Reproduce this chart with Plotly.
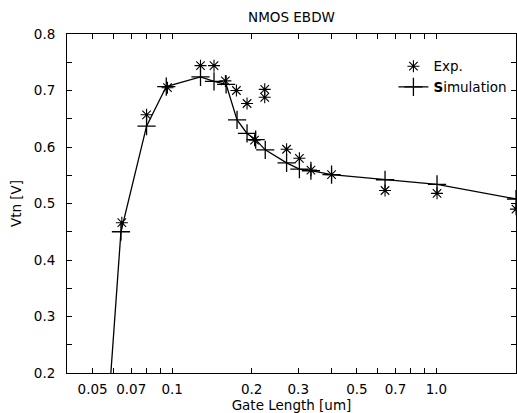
import plotly.graph_objects as go
import math

# Simulation (line + "+" markers)
sim_x = [0.058, 0.064, 0.080, 0.095, 0.128, 0.144, 0.160, 0.176, 0.192, 0.207, 0.225, 0.271, 0.303, 0.335, 0.401, 0.639, 1.005, 2.0]
sim_y = [0.17, 0.45, 0.637, 0.707, 0.724, 0.716, 0.711, 0.648, 0.624, 0.613, 0.595, 0.572, 0.561, 0.558, 0.551, 0.542, 0.534, 0.508]

# Experimental ("*" markers)
exp_x = [0.0645, 0.080, 0.096, 0.128, 0.144, 0.159, 0.175, 0.192, 0.205, 0.224, 0.224, 0.271, 0.303, 0.335, 0.401, 0.639, 1.005, 2.0]
exp_y = [0.466, 0.657, 0.705, 0.744, 0.744, 0.717, 0.700, 0.677, 0.612, 0.702, 0.688, 0.596, 0.580, 0.559, 0.551, 0.523, 0.518, 0.490]

x_tickvals = [0.04, 0.05, 0.06, 0.07, 0.08, 0.09, 0.1, 0.2, 0.3, 0.4, 0.5, 0.6, 0.7, 0.8, 0.9, 1.0]
x_ticktext = ["", "0.05", "", "0.07", "", "", "0.1", "0.2", "0.3", "", "0.5", "", "0.7", "", "", "1.0"]
y_tickvals = [0.2, 0.25, 0.3, 0.35, 0.4, 0.45, 0.5, 0.55, 0.6, 0.65, 0.7, 0.75, 0.8]
y_ticktext = ["0.2", "", "0.3", "", "0.4", "", "0.5", "", "0.6", "", "0.7", "", "0.8"]

FONT = "DejaVu Sans"

fig = go.Figure()
fig.add_trace(go.Scatter(
    x=exp_x, y=exp_y, mode="markers", name="Exp.",
    marker=dict(symbol="asterisk-open", size=10, color="black",
                line=dict(color="black", width=1.1)),
))
fig.add_trace(go.Scatter(
    x=sim_x, y=sim_y, mode="lines+markers", name="<b>S</b>imulation",
    line=dict(color="black", width=1.3),
    marker=dict(symbol="cross-thin-open", size=13, color="black",
                line=dict(color="black", width=1.3)),
))

fig.update_layout(
    width=517, height=413,
    margin=dict(l=67, r=1, t=34, b=40, autoexpand=False),
    paper_bgcolor="white", plot_bgcolor="white",
    font=dict(family=FONT, size=13.5, color="black"),
    title=dict(text="NMOS EBDW", x=0.5, xref="paper", y=1 - 17 / 413,
               yanchor="middle", xanchor="center",
               font=dict(family=FONT, size=13.5, color="black")),
    showlegend=True,
    legend=dict(x=0.727, y=0.95, xanchor="left", yanchor="top",
                bgcolor="rgba(0,0,0,0)", borderwidth=0,
                font=dict(family=FONT, size=13.5, color="black"),
                tracegroupgap=0, itemwidth=30),
    xaxis=dict(
        type="log", range=[math.log10(0.04), math.log10(2.0)],
        tickvals=x_tickvals, ticktext=x_ticktext,
        ticks="inside", ticklen=5, tickwidth=1, tickcolor="black",
        showline=True, linecolor="black", linewidth=1, mirror="ticks",
        showgrid=False, zeroline=False, automargin=False,
        ticklabelstandoff=4,
        title=dict(text="Gate Length [um]", standoff=4,
                   font=dict(family=FONT, size=13.5)),
    ),
    yaxis=dict(
        range=[0.2, 0.8],
        tickvals=y_tickvals, ticktext=y_ticktext,
        ticks="inside", ticklen=5, tickwidth=1, tickcolor="black",
        showline=True, linecolor="black", linewidth=1, mirror="ticks",
        showgrid=False, zeroline=False, automargin=False,
        ticklabelstandoff=8,
        title=dict(text="Vtn [V]", standoff=9,
                   font=dict(family=FONT, size=13.5)),
    ),
)

fig.write_html("out.html",
               config={"displayModeBar": False},
               post_script="document.body.style.margin='0';document.body.style.padding='0';")
